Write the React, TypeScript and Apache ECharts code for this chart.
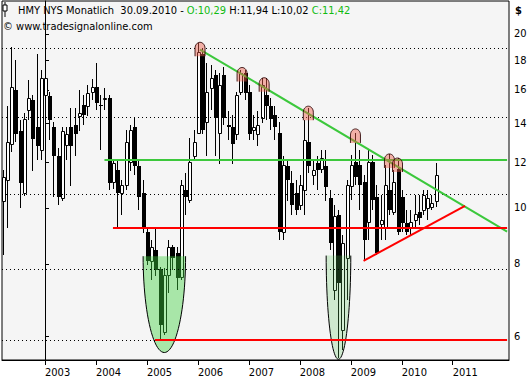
import { useEffect, useRef } from 'react';
import * as echarts from 'echarts';

// Month index 0 = Jan 2003; first candle = Mar 2002
const firstMonthIndex = -10;
const opens = [10.28, 11.18, 12.9, 16.0, 13.6, 10.6, 14.8, 15.4, 13.8, 12.6,
  15.7, 15.6, 13.8, 12.3, 10.4, 12.85, 13.8, 13.9, 14.4, 15.1, 15.0, 15.9,
  16.2, 15.1, 15.5, 15.5, 11.1, 11.63, 10.6, 10.96, 12.0, 13.8, 11.8, 10.6,
  9.1, 8.09, 8.46, 7.84, 6.1, 7.66, 8.56, 8.36, 7.6, 10.74, 10.32, 12.3,
  13.5, 18.5, 14.1, 16.1, 17.0, 13.5, 17.0, 13.9, 13.8, 13.4, 15.9, 17.1,
  15.9, 13.64, 13.4, 14.3, 15.7, 15.0, 14.5, 13.5, 9.1, 11.8, 11.05, 10.6,
  10.1, 10.74, 13.0, 11.4, 11.96, 11.7, 11.8, 10.4, 7.21, 9.72, 6.15, 8.2,
  10.9, 12.0, 11.87, 11.1, 9.45, 12.0, 10.45, 9.38, 9.27, 10.74, 9.82, 11.7,
  10.45, 9.41, 9.23, 9.53, 9.82, 9.92, 9.98, 10.05, 10.29];
const highs = [11.63, 15.0, 19.0, 18.0, 14.2, 14.6, 16.65, 15.7, 18.5, 17.3,
  18.2, 15.9, 14.1, 12.7, 13.8, 13.8, 14.9, 14.9, 16.0, 15.7, 16.3, 16.7,
  17.8, 15.7, 16.1, 15.7, 12.1, 12.1, 11.18, 13.64, 13.9, 14.3, 12.1, 11.18,
  9.23, 8.8, 9.23, 7.9, 7.87, 8.8, 8.63, 8.56, 11.18, 11.5, 13.2, 13.64,
  19.3, 18.9, 17.8, 17.7, 17.3, 17.1, 17.5, 14.7, 14.5, 15.9, 17.3, 17.3,
  16.3, 14.5, 14.7, 16.8, 16.8, 15.5, 15.0, 14.1, 12.3, 12.1, 11.6, 11.18,
  11.4, 14.2, 14.9, 12.1, 12.3, 12.6, 12.6, 10.74, 10.12, 9.92, 8.98, 11.18,
  12.35, 13.5, 12.6, 11.4, 12.6, 12.35, 10.96, 10.53, 11.87, 12.4, 11.63, 12.2,
  10.74, 9.92, 9.92, 10.53, 10.53, 10.74, 10.74, 10.53, 11.94];
const lows = [8.29, 9.23, 12.5, 13.0, 9.98, 10.5, 14.2, 11.6, 12.1, 12.1,
  14.8, 13.1, 10.45, 10.1, 10.3, 12.1, 10.9, 12.3, 13.6, 13.9, 14.4, 15.4,
  14.8, 12.6, 14.8, 10.74, 10.8, 9.23, 9.72, 10.74, 11.6, 11.4, 9.92, 9.05,
  7.97, 7.5, 7.62, 5.94, 6.03, 7.13, 7.81, 7.21, 7.5, 9.72, 10.2, 12.1,
  13.4, 13.4, 12.3, 14.8, 12.3, 11.9, 13.9, 13.1, 11.9, 13.1, 15.7, 15.4,
  13.1, 13.1, 12.8, 14.0, 14.2, 13.64, 13.1, 8.8, 8.8, 10.3, 9.72, 9.72,
  9.92, 9.72, 11.5, 10.96, 10.74, 11.5, 10.3, 8.46, 6.93, 5.5, 5.68, 6.93,
  10.32, 10.96, 9.92, 8.09, 8.8, 9.92, 8.29, 8.8, 8.8, 9.72, 9.72, 8.98,
  9.1, 8.98, 8.98, 9.23, 9.34, 9.72, 9.53, 9.92, 10.02];
const closes = [11.29, 13.0, 16.2, 13.4, 11.05, 14.25, 15.5, 13.15, 12.8, 16.8,
  16.8, 14.2, 12.3, 10.45, 13.6, 13.4, 12.8, 13.4, 14.6, 14.5, 15.8, 16.2,
  15.2, 15.0, 15.5, 11.05, 11.96, 10.6, 10.96, 13.0, 13.64, 11.8, 10.45, 9.27,
  8.09, 8.56, 7.81, 6.27, 7.66, 8.56, 8.19, 7.57, 10.96, 10.45, 12.0, 13.0,
  18.6, 13.64, 15.9, 16.8, 14.3, 16.3, 14.3, 13.8, 12.9, 15.7, 17.1, 15.8,
  13.4, 13.8, 13.9, 16.3, 15.0, 14.25, 13.8, 9.1, 11.87, 11.18, 10.1, 9.92,
  10.96, 13.1, 11.8, 11.65, 11.63, 12.2, 10.87, 8.7, 9.68, 7.4, 8.7, 10.96,
  11.87, 11.3, 10.96, 8.8, 12.0, 10.32, 8.36, 9.53, 10.96, 9.92, 11.1, 9.1,
  9.41, 9.1, 9.45, 9.77, 9.6, 10.53, 10.4, 10.2, 11.42];

const yearLabels = ['2003', '2004', '2005', '2006', '2007', '2008', '2009', '2010', '2011'];
const priceTicks = [6, 8, 10, 12, 14, 16, 18, 20];
const gridValues = [18.92, 14.37, 10.57, 7.82, 5.91];

// trend lines: [monthIndex, price]
const greenDown = [[36.5, 18.8], [108.8, 9.1]];
const greenFlat = [[14, 12.11], [108.8, 12.11]];
const redFlat = [[16, 9.23], [108.8, 9.23]];
const redLow = [[25.9, 5.91], [108.8, 5.91]];
const redUp = [[75, 8.1], [98.9, 10.08]];
// basins: [leftMonth, rightMonth, topPrice, bottomPrice]
const basins = [[23.1, 33.1, 8.25, 5.62], [66.2, 72.0, 8.27, 5.47]];
// peak markers: [month, topPrice]
const peaks = [[36.5, 19.35], [46.4, 17.5], [51.6, 16.8], [62.0, 15.0], [73.1, 13.7], [81.1, 12.4], [83.0, 12.2]];

const FONT = "'DejaVu Sans Condensed', 'Liberation Sans', sans-serif";
const BG = '#f5f5f5';
const basinFills = ['rgba(62,210,62,0.42)', 'rgba(90,200,90,0.25)'];

export default function App() {
  const ref = useRef<HTMLDivElement>(null);
  useEffect(() => {
    document.body.style.margin = '0';
    const chart = echarts.init(ref.current!, undefined, { renderer: 'svg' });
    const candleData = opens.map((o, i) => [firstMonthIndex + i, o, highs[i], lows[i], closes[i]]);
    const last = opens.length - 1;
    const fmt = (v: number) => v.toFixed(2).replace('.', ',');
    const lineSeries = (data: number[][], color: string) => ({
      type: 'line', data, symbol: 'none', silent: true, z: 5,
      lineStyle: { color, width: 2 }, clip: true,
    });
    const option: any = {
      animation: false,
      grid: { left: 2, right: 23, top: 1, bottom: 20, show: true, backgroundColor: BG, borderColor: '#000', borderWidth: 1 },
      xAxis: {
        type: 'value', min: -10.125, max: 109.25,
        axisLine: { show: true, lineStyle: { color: '#000' } },
        axisTick: { show: true, length: 5, customValues: yearLabels.map((_, k) => k * 12), lineStyle: { color: '#000' } },
        axisLabel: {
          customValues: yearLabels.map((_, k) => k * 12),
          formatter: (v: number) => yearLabels[Math.round(v / 12)] ?? '',
          align: 'left', margin: 7, color: '#000', fontSize: 11, fontFamily: FONT,
        },
        splitLine: { show: false },
      },
      yAxis: {
        type: 'log', logBase: 10, position: 'right', min: 5.455, max: 22.81,
        axisLine: { show: true, lineStyle: { color: '#000' } },
        axisTick: { show: true, length: 4, customValues: priceTicks, lineStyle: { color: '#000' } },
        axisLabel: { customValues: priceTicks, formatter: (v: number) => String(Math.round(v)), margin: 5, color: '#000', fontSize: 11, fontFamily: FONT },
        splitLine: { show: false },
      },
      series: [
        {
          type: 'line', data: [], z: 1, silent: true,
          markLine: {
            silent: true, symbol: ['none', 'none'], label: { show: false },
            lineStyle: { type: [1, 3], color: '#000', width: 1 },
            data: gridValues.map((v) => ({ yAxis: v })),
          },
        },
        {
          type: 'custom', z: 3, data: candleData, clip: true, silent: true,
          encode: { x: 0, y: [1, 2, 3, 4] },
          renderItem: (params: any, api: any) => {
            const m = api.value(0), o = api.value(1), h = api.value(2), l = api.value(3), c = api.value(4);
            const po = api.coord([m, o]), pc = api.coord([m, c]), ph = api.coord([m, h]), pl = api.coord([m, l]);
            const px = Math.round(po[0]);
            const yT = Math.round(Math.min(po[1], pc[1]));
            const yB = Math.round(Math.max(po[1], pc[1]));
            const children: any[] = [{
              type: 'line', shape: { x1: px + 0.5, y1: Math.round(ph[1]), x2: px + 0.5, y2: Math.round(pl[1]) },
              style: { stroke: '#000', lineWidth: 1 },
            }];
            if (c >= o) {
              children.push({ type: 'rect', shape: { x: px - 0.5, y: yT + 0.5, width: 3, height: Math.max(yB - yT, 1) }, style: { fill: '#fff', stroke: '#000', lineWidth: 1 } });
            } else {
              children.push({ type: 'rect', shape: { x: px - 1, y: yT, width: 4, height: Math.max(yB - yT, 1) }, style: { fill: '#000' } });
            }
            return { type: 'group', children };
          },
        },
        {
          type: 'custom', z: 4, data: basins, clip: true, silent: true,
          encode: { x: [0, 1], y: [2, 3] },
          renderItem: (params: any, api: any) => {
            const a = api.coord([api.value(0), api.value(2)]);
            const b = api.coord([api.value(1), api.value(3)]);
            const cx = (a[0] + b[0]) / 2, rx = (b[0] - a[0]) / 2, top = a[1], ry = b[1] - a[1];
            const pts: number[][] = [];
            for (let k = 0; k <= 48; k++) {
              const t = (Math.PI * k) / 48;
              pts.push([cx + rx * Math.cos(t), top + ry * Math.sin(t)]);
            }
            return {
              type: 'group', children: [
                { type: 'polygon', shape: { points: pts }, style: { fill: basinFills[params.dataIndex], stroke: 'none' } },
                { type: 'polyline', shape: { points: pts }, style: { fill: 'none', stroke: '#000', lineWidth: 1 } },
              ],
            };
          },
        },
        lineSeries(greenFlat, '#3cc83c'),
        lineSeries(greenDown, '#3cc83c'),
        lineSeries(redFlat, '#ff0000'),
        lineSeries(redLow, '#ff0000'),
        lineSeries(redUp, '#ff0000'),
        {
          type: 'custom', z: 6, data: peaks, clip: true, silent: true,
          encode: { x: 0, y: 1 },
          renderItem: (params: any, api: any) => {
            const p = api.coord([api.value(0), api.value(1)]);
            const x = p[0], y = p[1], r = 5, hgt = 14;
            const pts: number[][] = [[x - r, y + hgt], [x - r, y + r + 1]];
            for (let k = 1; k < 16; k++) {
              const t = Math.PI - (Math.PI * k) / 16;
              pts.push([x + r * Math.cos(t), y + r + 1 - (r + 1) * Math.sin(t)]);
            }
            pts.push([x + r, y + r + 1], [x + r, y + hgt]);
            return {
              type: 'group', children: [
                { type: 'polygon', shape: { points: pts }, style: { fill: 'rgba(240,90,70,0.45)', stroke: 'none' } },
                { type: 'polyline', shape: { points: pts }, style: { fill: 'none', stroke: 'rgba(40,0,0,0.85)', lineWidth: 1 } },
              ],
            };
          },
        },
      ],
      graphic: [
        { type: 'rect', shape: { x: 3, y: 5, width: 4, height: 6 }, style: { fill: '#fff', stroke: '#000', lineWidth: 1 }, z: 10 },
        { type: 'line', shape: { x1: 5, y1: 2, x2: 5, y2: 17 }, style: { stroke: '#000', lineWidth: 1 }, z: 9 },
        {
          type: 'text', x: 18, y: 10, z: 10,
          style: {
            text: `{k|HMY NYS Monatlich  30.09.2010 - }{g|O:${fmt(opens[last])}}{k| H:${fmt(highs[last])} L:${fmt(lows[last])} }{g|C:${fmt(closes[last])}}`,
            verticalAlign: 'middle', fontSize: 11, fontFamily: FONT,
            rich: { k: { fill: '#000', fontSize: 11, fontFamily: FONT }, g: { fill: '#11bb11', fontSize: 11, fontFamily: FONT } },
          },
        },
        { type: 'text', x: 3, y: 26, z: 10, style: { text: '© www.tradesignalonline.com', fill: '#000', fontSize: 11, fontFamily: FONT, verticalAlign: 'middle' } },
        { type: 'text', x: 515, y: 10, z: 10, style: { text: '$', fill: '#000', fontSize: 11, fontWeight: 'bold', fontFamily: FONT, verticalAlign: 'middle' } },
      ],
    };
    chart.setOption(option);
    return () => chart.dispose();
  }, []);
  return <div ref={ref} style={{ position: 'absolute', left: 0, top: 0, width: 532, height: 380, background: '#fff' }} />;
}
